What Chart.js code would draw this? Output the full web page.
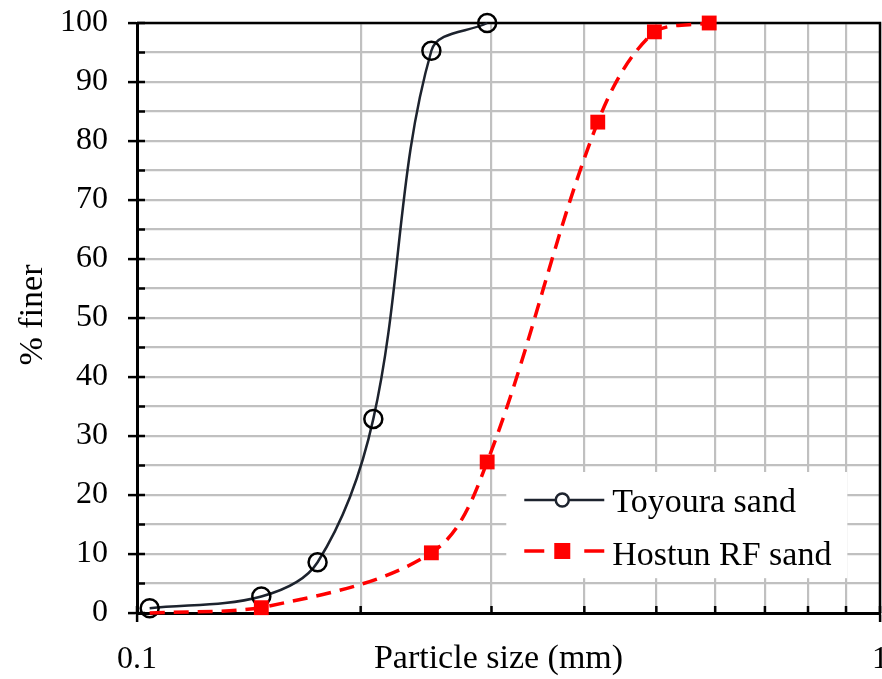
<!DOCTYPE html>
<html>
<head>
<meta charset="utf-8">
<script src="https://cdn.jsdelivr.net/npm/chart.js@4.4.0/dist/chart.umd.min.js"></script>
<style>
  html, body { margin: 0; padding: 0; background: #fff; }
  #wrap { width: 882px; height: 679px; }
</style>
</head>
<body>
<div id="wrap"><canvas id="grading"></canvas></div>
<script>
// grain size distribution
const toyouraSize = [0.104, 0.147, 0.175, 0.208, 0.249, 0.296];
const toyouraFiner = [0.8, 2.8, 8.6, 32.9, 95.3, 100];
const hostunSize = [0.104, 0.147, 0.249, 0.296, 0.417, 0.497, 0.589];
const hostunFiner = [0, 0.9, 10.2, 25.6, 83.2, 98.5, 100];
const seriesNames = ['Toyoura sand', 'Hostun RF sand'];
const xGridValues = [0.1, 0.2, 0.3, 0.4, 0.5, 0.6, 0.7, 0.8, 0.9, 1];
const xTickValues = [0.1, 1];
const xTickLabels = ['0.1', '1'];
const yTickLabels = ['0', '10', '20', '30', '40', '50', '60', '70', '80', '90', '100'];

const SERIF = '"Liberation Serif", "Times New Roman", serif';
const BLACK_LINE = '#1d232e';

const toPoints = (xs, ys) => xs.map((x, i) => ({ x: x, y: ys[i] }));
const isDecade = v => Math.abs(Math.log10(v) - Math.round(Math.log10(v))) < 1e-6;

// frame + little inward ticks like the excel plot
const framePlugin = {
    id: 'frame',
    beforeDatasetsDraw: function(chart) {
        const ctx = chart.ctx;
        const a = chart.chartArea;
        ctx.save();
        ctx.strokeStyle = '#000';
        ctx.lineWidth = 2.5;
        chart.scales.y.ticks.forEach(t => {
            const y = chart.scales.y.getPixelForValue(t.value);
            ctx.beginPath();
            ctx.moveTo(a.left, y);
            ctx.lineTo(a.left + 8, y);
            ctx.stroke();
        });
        chart.scales.x.ticks.forEach(t => {
            const x = chart.scales.x.getPixelForValue(t.value);
            ctx.beginPath();
            ctx.moveTo(x, a.bottom);
            ctx.lineTo(x, a.bottom - 7);
            ctx.stroke();
        });
        ctx.beginPath();
        ctx.moveTo(a.left, a.top);
        ctx.lineTo(a.right, a.top);
        ctx.lineTo(a.right, a.bottom);
        ctx.stroke();
        ctx.restore();
    }
};

// x tick labels and axis titles (x title sits on the same line as the tick labels)
const titlePlugin = {
    id: 'titles',
    afterDraw: function(chart) {
        const ctx = chart.ctx;
        const a = chart.chartArea;
        const xs = chart.scales.x;
        ctx.save();
        ctx.fillStyle = '#000';
        ctx.textBaseline = 'alphabetic';
        ctx.textAlign = 'center';
        ctx.font = '32px ' + SERIF;
        xTickValues.forEach((v, i) => {
            ctx.fillText(xTickLabels[i], xs.getPixelForValue(v), a.bottom + 55);
        });
        ctx.font = '34px ' + SERIF;
        ctx.fillText('Particle size (mm)', (a.left + a.right) / 2 - 10, a.bottom + 55);
        ctx.translate(42, (a.top + a.bottom) / 2 - 3);
        ctx.rotate(-Math.PI / 2);
        ctx.fillText('% finer', 0, 0);
        ctx.restore();
    }
};

// legend inside the plot, lower right
const legendPlugin = {
    id: 'insideLegend',
    afterDatasetsDraw: function(chart) {
        const ctx = chart.ctx;
        const a = chart.chartArea;
        const w = a.right - a.left;
        const h = a.bottom - a.top;
        const left = a.left + 0.497 * w;
        const top = a.top + 0.761 * h;
        ctx.save();
        ctx.fillStyle = '#fff';
        ctx.fillRect(left, top, 0.459 * w, 0.18 * h);

        const x0 = left + 18, x1 = left + 98, xm = left + 56;
        const rows = [top + 28, top + 79];

        // Toyoura
        ctx.strokeStyle = BLACK_LINE;
        ctx.lineWidth = 2.5;
        ctx.beginPath();
        ctx.moveTo(x0, rows[0]);
        ctx.lineTo(x1, rows[0]);
        ctx.stroke();
        ctx.fillStyle = '#fff';
        ctx.beginPath();
        ctx.arc(xm, rows[0], 6.5, 0, Math.PI * 2);
        ctx.fill();
        ctx.stroke();

        // Hostun
        ctx.strokeStyle = '#ff0000';
        ctx.lineWidth = 3.5;
        ctx.beginPath();
        ctx.moveTo(x0, rows[1]);
        ctx.lineTo(x0 + 20, rows[1]);
        ctx.moveTo(x1 - 20, rows[1]);
        ctx.lineTo(x1, rows[1]);
        ctx.stroke();
        ctx.fillStyle = '#ff0000';
        ctx.fillRect(xm - 8, rows[1] - 8, 16, 16);

        ctx.fillStyle = '#000';
        ctx.font = '34px ' + SERIF;
        ctx.textAlign = 'left';
        ctx.textBaseline = 'alphabetic';
        ctx.fillText(seriesNames[0], x1 + 8, rows[0] + 12);
        ctx.fillText(seriesNames[1], x1 + 8, rows[1] + 14);
        ctx.restore();
    }
};

new Chart(document.getElementById('grading'), {
    type: 'line',
    data: {
        datasets: [
            {
                label: seriesNames[0],
                data: toPoints(toyouraSize, toyouraFiner),
                borderColor: BLACK_LINE,
                borderWidth: 2.5,
                tension: 0.35,
                pointStyle: 'circle',
                pointRadius: 9,
                pointBorderWidth: 2.5,
                pointBorderColor: '#000',
                pointBackgroundColor: 'rgba(255,255,255,0)',
                clip: false,
                order: 1
            },
            {
                label: seriesNames[1],
                data: toPoints(hostunSize, hostunFiner),
                borderColor: '#ff0000',
                borderWidth: 3.5,
                borderDash: [15, 9],
                tension: 0.35,
                pointStyle: 'rect',
                pointRadius: hostunSize.map((s, i) => i === 0 ? 0 : 10.5),
                pointBorderWidth: 0,
                pointBackgroundColor: '#ff0000',
                pointBorderColor: '#ff0000',
                clip: false,
                order: 0
            }
        ]
    },
    options: {
        responsive: true,
        maintainAspectRatio: false,
        animation: false,
        layout: { autoPadding: false, padding: { top: 23, right: 2, left: 0, bottom: 0 } },
        plugins: {
            legend: { display: false },
            tooltip: { enabled: false }
        },
        scales: {
            x: {
                type: 'logarithmic',
                min: 0.1,
                max: 1,
                border: { display: true, color: '#000', width: 3 },
                grid: {
                    color: '#c0c0c0',
                    lineWidth: 2.2,
                    tickLength: 9,
                    tickWidth: 2.5,
                    tickColor: ctx => (ctx.tick && isDecade(ctx.tick.value)) ? '#000' : 'rgba(0,0,0,0)'
                },
                ticks: { display: false },
                afterBuildTicks: function(scale) {
                    scale.ticks = xGridValues.map(v => ({ value: v, major: isDecade(v) }));
                },
                afterFit: function(scale) {
                    scale.height = 66;
                    scale.paddingLeft = 0;
                    scale.paddingRight = 0;
                }
            },
            y: {
                min: 0,
                max: 100,
                border: { display: true, color: '#000', width: 3 },
                grid: {
                    color: '#c0c0c0',
                    lineWidth: 2.2,
                    tickLength: 9,
                    tickWidth: 2.5,
                    tickColor: ctx => (ctx.tick && ctx.tick.value % 10 === 0) ? '#000' : 'rgba(0,0,0,0)'
                },
                ticks: {
                    stepSize: 5,
                    autoSkip: false,
                    padding: 20,
                    color: '#000',
                    font: { family: SERIF, size: 32 },
                    callback: function(value) {
                        return value % 10 === 0 ? yTickLabels[value / 10] : '';
                    }
                },
                afterFit: function(scale) {
                    scale.width = 137;
                    scale.paddingTop = 0;
                    scale.paddingBottom = 0;
                }
            }
        }
    },
    plugins: [framePlugin, legendPlugin, titlePlugin]
});
</script>
</body>
</html>
